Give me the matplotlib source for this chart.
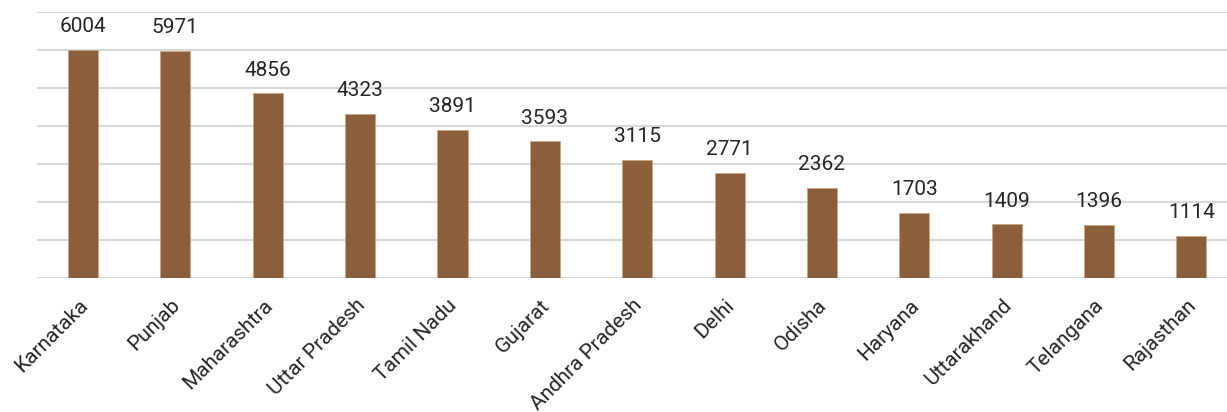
import matplotlib
matplotlib.use("Agg")
import matplotlib.pyplot as plt
import matplotlib.transforms as mtransforms

states = ["Karnataka", "Punjab", "Maharashtra", "Uttar Pradesh", "Tamil Nadu", "Gujarat",
          "Andhra Pradesh", "Delhi", "Odisha", "Haryana", "Uttarakhand", "Telangana", "Rajasthan"]
values = [6004, 5971, 4856, 4323, 3891, 3593, 3115, 2771, 2362, 1703, 1409, 1396, 1114]

plt.rcParams['font.family'] = ['Roboto', 'DejaVu Sans']

fig = plt.figure(figsize=(12.27, 4.12), dpi=100)
ax = fig.add_axes([0.030, 0.3252, 0.9787, 0.6456])

x = list(range(len(states)))
bars = ax.bar(x, values, width=0.325, color="#8B5E3C", edgecolor="#C8A882", linewidth=0.6, zorder=3)

ax.set_xlim(-0.5, len(states) - 0.5)
ax.set_ylim(0, 7000)
ax.set_yticks(range(0, 7001, 1000))
ax.yaxis.grid(True, color="#D9D9D9", linewidth=1.5, zorder=0)
ax.set_axisbelow(True)
ax.tick_params(axis='y', left=False, labelleft=False)
ax.tick_params(axis='x', length=0, pad=9)
for s in ax.spines.values():
    s.set_visible(False)

ax.set_xticks(x)
ax.set_xticklabels(states, rotation=45, ha='right', rotation_mode='anchor',
                   fontsize=15, color="#262626")
offset = mtransforms.ScaledTranslation(-0.05, -0.05, fig.dpi_scale_trans)
for lbl in ax.get_xticklabels():
    lbl.set_transform(lbl.get_transform() + offset)

for xi, v in zip(x, values):
    ax.annotate(str(v), (xi, v), xytext=(0, 10), textcoords='offset points',
                ha='center', va='bottom', fontsize=15, color="#262626")

fig.savefig("out.png", dpi=100)
